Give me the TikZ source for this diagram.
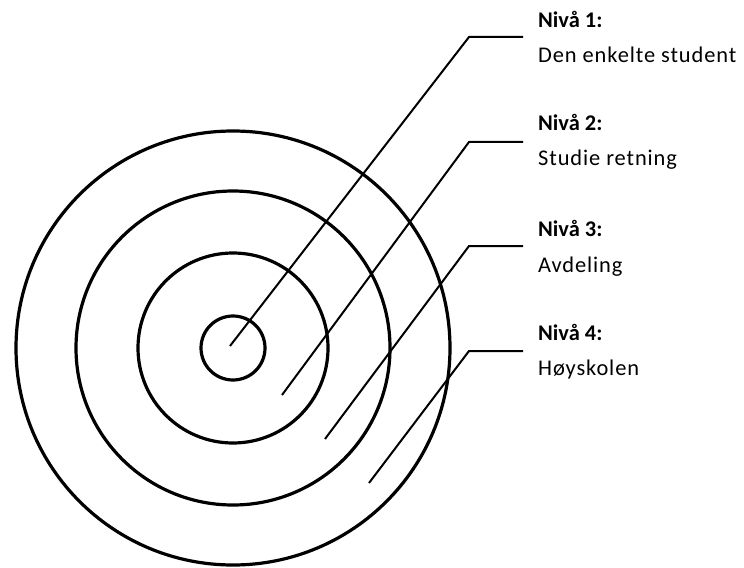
\documentclass[tikz,border=0pt]{standalone}
\usepackage{fontspec}
\setmainfont{Carlito}
\newfontfamily\bodyfont[LetterSpace=4]{Carlito}
\begin{document}
\begin{tikzpicture}[x=1bp,y=-1bp,
  ring/.style={draw=black,line width=3.2bp},
  leader/.style={draw=black,line width=2bp,line join=miter},
  head/.style={anchor=base west,inner sep=0pt,font=\fontsize{22.5}{26}\selectfont\bfseries},
  body/.style={anchor=base west,inner sep=0pt,font=\fontsize{22.5}{26}\selectfont\bodyfont}]
\useasboundingbox (0,0) rectangle (744,568);
\coordinate (c) at (233,348);
\draw[ring] (c) circle[radius=217bp];
\draw[ring] (c) circle[radius=157bp];
\draw[ring] (c) circle[radius=95bp];
\draw[ring] (c) circle[radius=32bp];
% leader coordinates
\coordinate (s1) at (230,346); \coordinate (b1) at (469,37);  \coordinate (e1) at (523,37);
\coordinate (s2) at (282,395); \coordinate (b2) at (469,142); \coordinate (e2) at (523,142);
\coordinate (s3) at (325,439); \coordinate (b3) at (469,246); \coordinate (e3) at (523,246);
\coordinate (s4) at (369,483); \coordinate (b4) at (469,351); \coordinate (e4) at (523,351);
\draw[leader] (s1) -- (b1) -- (e1);
\draw[leader] (s2) -- (b2) -- (e2);
\draw[leader] (s3) -- (b3) -- (e3);
\draw[leader] (s4) -- (b4) -- (e4);
% labels
\node[head] (h1) at (538,28) {Nivå 1:};
\node[body] (t1) at (538,63) {Den enkelte student};
\node[head] (h2) at (538,131) {Nivå 2:};
\node[body] (t2) at (538,166) {Studie retning};
\node[head] (h3) at (538,236) {Nivå 3:};
\node[body] (t3) at (538,272) {Avdeling};
\node[head] (h4) at (538,340) {Nivå 4:};
\node[body] (t4) at (538,375) {Høyskolen};
\end{tikzpicture}
\end{document}
